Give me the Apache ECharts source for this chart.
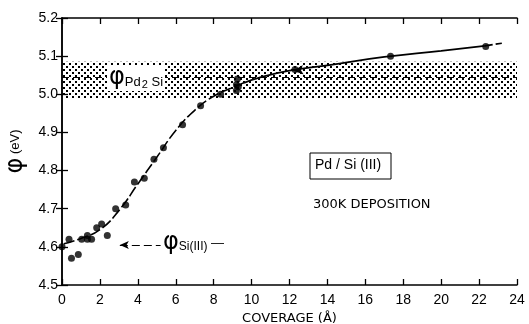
<!DOCTYPE html>
<html><head><meta charset="utf-8">
<script src="https://cdn.jsdelivr.net/npm/echarts@6/dist/echarts.min.js"></script>
<style>html,body{margin:0;padding:0;background:#fff}#c{width:529px;height:324px}</style>
</head><body><div id="c"></div>
<script>
// Measured data points (coverage in Å, work function in eV)
const coverage = [0, 0.37, 0.5, 0.86, 1.04, 1.34, 1.34, 1.56, 1.83, 2.09, 2.39, 2.83, 3.36, 3.82, 4.34, 4.85, 5.35, 6.36, 7.31, 8.37, 9.2, 9.2, 9.25, 9.3, 12.29, 17.33, 22.35];
const phi      = [4.60, 4.62, 4.57, 4.58, 4.62, 4.63, 4.62, 4.62, 4.65, 4.66, 4.63, 4.70, 4.71, 4.77, 4.78, 4.83, 4.86, 4.92, 4.97, 5.00, 5.01, 5.025, 5.04, 5.02, 5.065, 5.10, 5.125];
// Guide curve
const curveLowX  = [0.1, 1.0, 2.0, 3.0, 4.0, 5.0, 6.0, 7.0, 8.0, 9.0, 9.6];
const curveLowY  = [4.608, 4.622, 4.645, 4.695, 4.765, 4.835, 4.905, 4.958, 4.995, 5.018, 5.03];
const curveHighX = [9.6, 10.5, 12.0, 14.0, 17.0, 20.0, 22.3];
const curveHighY = [5.03, 5.045, 5.062, 5.076, 5.098, 5.114, 5.127];
const curveTailX = [22.3, 23.2];
const curveTailY = [5.127, 5.134];
// Pd2Si band and reference levels
const bandLow = 4.99, bandHigh = 5.085, bandMid = 5.045;
const siLevel = 4.605;
const xTicks = {min: 0, max: 24, interval: 2};
const yTicks = {min: 4.5, max: 5.2, interval: 0.1};

function zip(a, b) { return a.map((v, i) => [v, b[i]]); }

// stipple pattern
const pc = document.createElement('canvas');
pc.width = 6; pc.height = 6;
const px = pc.getContext('2d');
px.fillStyle = '#000';
px.fillRect(0, 0, 2, 2);
px.fillRect(3, 3, 2, 2);

const font = 'Liberation Sans';
const wide = 'DejaVu Sans';
const chart = echarts.init(document.getElementById('c'), null, {renderer: 'canvas'});
const axisLine = {lineStyle: {color: '#000', width: 1.5}};
const axisTick = {inside: true, length: 6, lineStyle: {color: '#000', width: 1.3}};

chart.setOption({
  animation: false,
  backgroundColor: '#fff',
  grid: {left: 62, top: 18, right: 12, bottom: 39, outerBoundsMode: 'none', containLabel: false},
  xAxis: [{
    type: 'value', min: xTicks.min, max: xTicks.max, interval: xTicks.interval,
    axisLine, axisTick, splitLine: {show: false},
    axisLabel: {color: '#000', fontSize: 14, fontFamily: font, margin: 8},
    name: 'COVERAGE (Å)', nameLocation: 'middle', nameGap: 24,
    nameTextStyle: {color: '#000', fontSize: 13, fontFamily: wide}
  }, {
    type: 'value', position: 'top', min: xTicks.min, max: xTicks.max, interval: xTicks.interval,
    axisLine, axisTick, axisLabel: {show: false}, splitLine: {show: false}
  }],
  yAxis: [{
    type: 'value', min: yTicks.min, max: yTicks.max, interval: yTicks.interval,
    axisLine, axisTick, splitLine: {show: false},
    axisLabel: {color: '#000', fontSize: 14, fontFamily: font, margin: 4, formatter: v => v.toFixed(1)},
    name: '{a|φ}{b| (eV)}', nameLocation: 'middle', nameRotate: 90, nameGap: 31,
    nameTextStyle: {rich: {a: {fontSize: 24, fontFamily: wide, color: '#000'}, b: {fontSize: 13, fontFamily: font, color: '#000'}}}
  }, {
    type: 'value', position: 'right', min: yTicks.min, max: yTicks.max, interval: yTicks.interval,
    axisLine, axisTick, axisLabel: {show: false}, splitLine: {show: false}
  }],
  series: [
    {
      type: 'line', data: [], silent: true,
      markArea: {silent: true, itemStyle: {color: {image: pc, repeat: 'repeat'}},
        data: [[{xAxis: 0, yAxis: bandLow}, {xAxis: 24, yAxis: bandHigh}]]},
      markLine: {silent: true, symbol: 'none', label: {show: false},
        lineStyle: {color: '#000', type: [7, 4], width: 1.2},
        data: [[{coord: [0, bandMid]}, {coord: [24, bandMid]}]]}
    },
    {
      type: 'line', data: zip(curveLowX, curveLowY), smooth: true, symbol: 'none',
      lineStyle: {color: '#000', width: 1.6, type: [11, 3]}
    },
    {
      type: 'line', data: zip(curveHighX, curveHighY), smooth: true, symbol: 'none',
      lineStyle: {color: '#000', width: 1.8},
      markPoint: {silent: true, symbol: 'arrow', symbolSize: [7, 10], symbolRotate: 95,
        itemStyle: {color: '#000'}, label: {show: false},
        data: [{coord: [12.2, 5.062]}]}
    },
    {
      type: 'line', data: zip(curveTailX, curveTailY), symbol: 'none',
      lineStyle: {color: '#000', width: 1.6, type: [8, 3]}
    },
    {
      type: 'line', data: [], silent: true,
      markLine: {silent: true, symbol: ['arrow', 'none'], symbolSize: [6, 9], label: {show: false},
        lineStyle: {color: '#000', type: [8, 4], width: 1.2},
        data: [[{coord: [3.05, siLevel]}, {coord: [5.2, siLevel]}]]}
    },
    {
      type: 'scatter', data: zip(coverage, phi), symbol: 'circle', symbolSize: 7,
      itemStyle: {color: '#000'}, z: 5
    }
  ],
  graphic: [
    {type: 'text', left: 107, top: 65, z: 10, style: {
      text: '{a|φ}{b|Pd}{c|2}{b| Si}', backgroundColor: '#fff', padding: [0, 2, 0, 2],
      rich: {a: {fontSize: 24, fontFamily: wide, color: '#000', height: 26},
             b: {fontSize: 13, fontFamily: font, color: '#000', padding: [8, 0, 0, 0]},
             c: {fontSize: 11, fontFamily: font, color: '#000', padding: [14, 0, 0, 1]}}
    }},
    {type: 'text', left: 163, top: 231, z: 10, style: {
      text: '{a|φ}{b|Si(III)}{d| —}',
      rich: {a: {fontSize: 24, fontFamily: wide, color: '#000', height: 26},
             b: {fontSize: 12, fontFamily: font, color: '#000', padding: [8, 0, 0, 0]},
             d: {fontSize: 13, fontFamily: font, color: '#000'}}
    }},
    {type: 'rect', shape: {x: 310, y: 153, width: 81, height: 26}, z: 10,
      style: {fill: '#fff', stroke: '#000', lineWidth: 1}},
    {type: 'text', left: 315, top: 158, z: 11, style: {
      text: 'Pd / Si (III)', fontSize: 14, fontFamily: font, fill: '#000'}},
    {type: 'text', left: 313, top: 198, z: 11, style: {
      text: '300K DEPOSITION', fontSize: 13, fontFamily: wide, fill: '#000'}}
  ]
});
</script></body></html>
